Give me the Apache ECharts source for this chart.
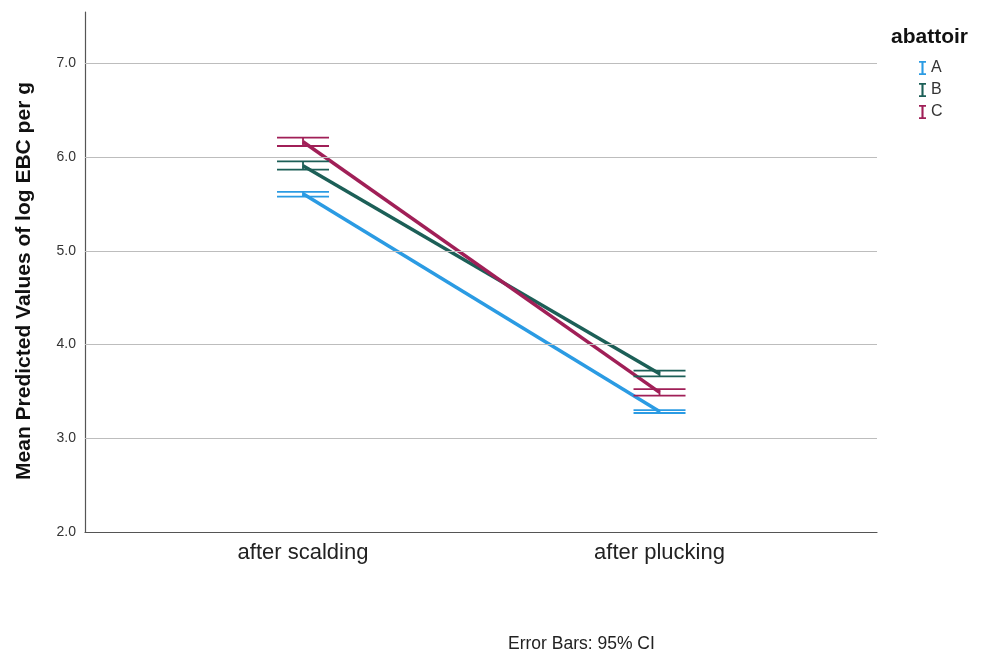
<!DOCTYPE html>
<html>
<head>
<meta charset="utf-8">
<script src="https://cdn.jsdelivr.net/npm/echarts@6/dist/echarts.min.js"></script>
<style>
  html, body { margin: 0; padding: 0; background: #fff; }
  #chart { width: 981px; height: 651px; }
</style>
</head>
<body>
<div id="chart"></div>
<script>
// Stages on the x axis
const stages = ['after scalding', 'after plucking'];
// Abattoir groups
const groups = ['A', 'B', 'C'];
const groupColors = ['#2b9be3', '#1c5f57', '#a01f57'];
// Mean predicted log EBC per g, per stage
const meanA = [5.61, 3.285];
const meanB = [5.91, 3.69];
const meanC = [6.165, 3.49];
// 95% CI bounds, per stage
const lowA = [5.58, 3.27];
const highA = [5.63, 3.30];
const lowB = [5.868, 3.66];
const highB = [5.956, 3.723];
const lowC = [6.12, 3.456];
const highC = [6.21, 3.525];
// Y tick labels
const yTicks = [2.0, 3.0, 4.0, 5.0, 6.0, 7.0];

const means = [meanA, meanB, meanC];
const lows = [lowA, lowB, lowC];
const highs = [highA, highB, highC];

const FONT = 'Liberation Sans, Arial, sans-serif';

const series = [];
groups.forEach((g, gi) => {
  series.push({
    name: g,
    type: 'line',
    data: stages.map((s, i) => [i, means[gi][i]]),
    symbol: 'none',
    lineStyle: { width: 3.5, color: groupColors[gi] },
    itemStyle: { color: groupColors[gi] },
    z: 3
  });
  series.push({
    name: g + ' CI',
    type: 'custom',
    data: stages.map((s, i) => [i, lows[gi][i], highs[gi][i]]),
    renderItem: function (params, api) {
      const x = api.value(0);
      const lo = api.coord([x, api.value(1)]);
      const hi = api.coord([x, api.value(2)]);
      const half = 26;
      const style = { stroke: groupColors[gi], lineWidth: 1.8 };
      return {
        type: 'group',
        children: [
          { type: 'line', shape: { x1: lo[0], y1: lo[1], x2: hi[0], y2: hi[1] }, style: style },
          { type: 'line', shape: { x1: lo[0] - half, y1: lo[1], x2: lo[0] + half, y2: lo[1] }, style: style },
          { type: 'line', shape: { x1: hi[0] - half, y1: hi[1], x2: hi[0] + half, y2: hi[1] }, style: style }
        ]
      };
    },
    z: 4
  });
});

const chart = echarts.init(document.getElementById('chart'));
chart.setOption({
  animation: false,
  backgroundColor: '#fff',
  grid: { left: 85, right: 104, top: 12, bottom: 119 },
  title: {
    text: 'abattoir',
    left: 886, top: 22,
    textStyle: { fontFamily: FONT, fontSize: 21, fontWeight: 'bold', color: '#111' }
  },
  legend: {
    data: groups,
    orient: 'vertical',
    left: 914, top: 55,
    itemGap: 6,
    itemWidth: 7, itemHeight: 14,
    icon: 'path://M0,0H10V2.5H6.5V17.5H10V20H0V17.5H3.5V2.5H0Z',
    textStyle: { fontFamily: FONT, fontSize: 16, color: '#333' },
    selectedMode: false
  },
  graphic: [{
    type: 'text',
    left: 508, top: 635,
    style: { text: 'Error Bars: 95% CI', font: '17.5px "Liberation Sans", Arial, sans-serif', fill: '#222' }
  }],
  xAxis: {
    type: 'value',
    min: -0.6115,
    max: 1.61,
    splitLine: { show: false },
    axisLine: { show: true, onZero: false, lineStyle: { color: '#555', width: 1.2 } },
    axisTick: { show: false },
    axisLabel: {
      customValues: stages.map((s, i) => i),
      formatter: v => stages[Math.round(v)] || '',
      fontFamily: FONT,
      fontSize: 22, color: '#222', margin: 10
    }
  },
  yAxis: {
    type: 'value',
    min: 2.0,
    max: 7.55,
    name: 'Mean Predicted Values of log EBC per g',
    nameLocation: 'middle',
    nameGap: 50,
    nameTextStyle: { fontFamily: FONT, fontSize: 21, fontWeight: 'bold', color: '#111', padding: [0, 18, 0, 0] },
    axisLine: { show: true, onZero: false, lineStyle: { color: '#555', width: 1.2 } },
    axisTick: { show: false },
    axisLabel: {
      customValues: yTicks,
      formatter: v => v.toFixed(1),
      fontFamily: FONT,
      fontSize: 14, color: '#333', margin: 9
    },
    splitLine: { show: false }
  },
  series: series.concat([{
    type: 'line',
    name: 'grid',
    silent: true,
    data: [],
    markLine: {
      silent: true,
      symbol: 'none',
      label: { show: false },
      lineStyle: { color: '#bdbdbd', width: 1.2, type: 'solid' },
      data: yTicks.filter(v => v > 2).map(v => ({ yAxis: v }))
    },
    z: 1
  }])
});
</script>
</body>
</html>
